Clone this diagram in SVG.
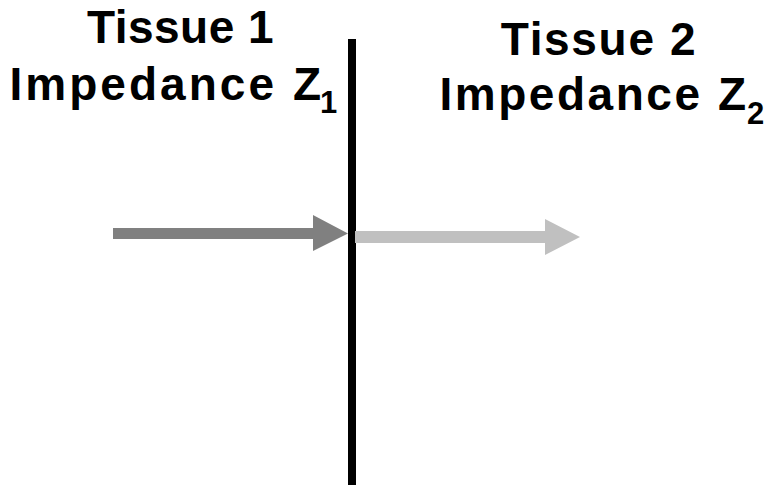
<svg xmlns="http://www.w3.org/2000/svg" width="770" height="487" viewBox="0 0 770 487">
  <style>
    .lbl { font-family: "Liberation Sans", Arial, sans-serif; font-weight: bold; fill: #000; }
    .big { font-size: 46px; }
    .sub { font-size: 31px; }
  </style>
  <rect width="770" height="487" fill="#ffffff"/>

  <!-- interface between the two tissues -->
  <g id="boundary">
    <rect x="348" y="39" width="8" height="446" fill="#000000"/>
  </g>

  <g id="tissue1">
    <text class="lbl big" x="87" y="43" textLength="186.5" lengthAdjust="spacing">Tissue 1</text>
    <text class="lbl big" x="9.4" y="100" textLength="311.6" lengthAdjust="spacing">Impedance Z</text>
    <text class="lbl sub" x="320" y="113">1</text>
  </g>

  <g id="tissue2">
    <text class="lbl big" x="500.7" y="55" textLength="195" lengthAdjust="spacing">Tissue 2</text>
    <text class="lbl big" x="439.4" y="110" textLength="306.6" lengthAdjust="spacing">Impedance Z</text>
    <text class="lbl sub" x="747" y="124">2</text>
  </g>

  <!-- incident and transmitted waves -->
  <g id="connectors">
    <path d="M113 228 H313 V215 L348 233.5 L313 251 V239 H113 Z" fill="#808080"/>
    <path d="M355 231 H545 V219 L580 237 L545 255 V243 H355 Z" fill="#c0c0c0"/>
  </g>
</svg>
